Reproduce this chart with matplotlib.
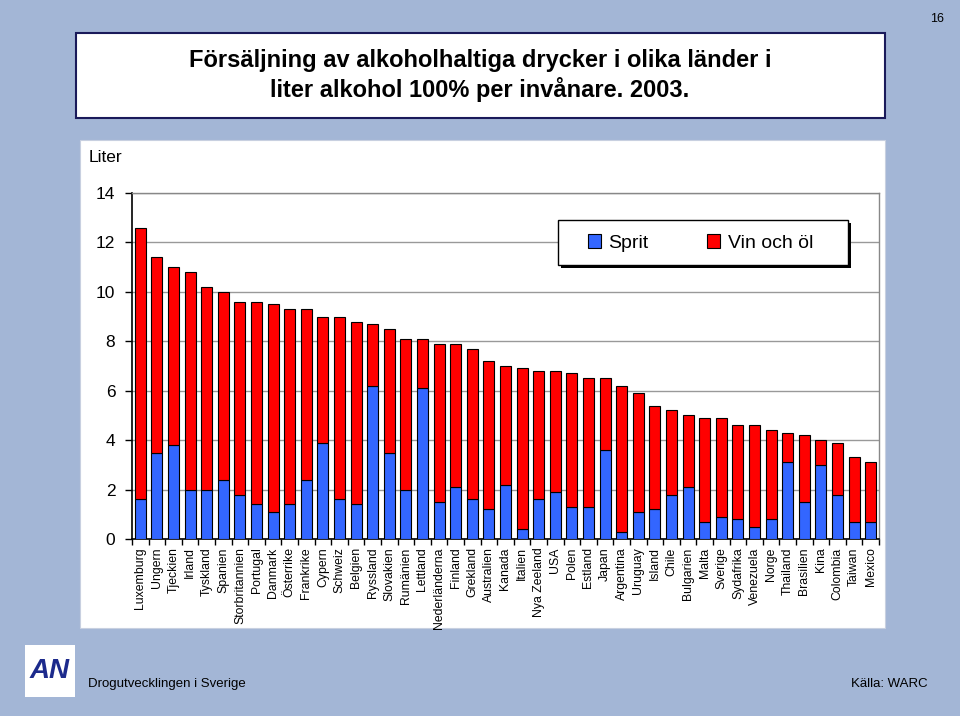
import matplotlib
matplotlib.use("Agg")
import matplotlib.pyplot as plt
from matplotlib.patches import Rectangle
import numpy as np

plt.rcParams['font.family'] = ['Liberation Sans', 'DejaVu Sans']

# Data: liter alkohol 100% per invånare, 2003
lander = ['Luxemburg', 'Ungern', 'Tjeckien', 'Irland', 'Tyskland', 'Spanien',
          'Storbritannien', 'Portugal', 'Danmark', 'Österrike', 'Frankrike',
          'Cypern', 'Schweiz', 'Belgien', 'Ryssland', 'Slovakien', 'Rumänien',
          'Lettland', 'Nederländerna', 'Finland', 'Grekland', 'Australien',
          'Kanada', 'Italien', 'Nya Zeeland', 'USA', 'Polen', 'Estland', 'Japan',
          'Argentina', 'Uruguay', 'Island', 'Chile', 'Bulgarien', 'Malta',
          'Sverige', 'Sydafrika', 'Venezuela', 'Norge', 'Thailand', 'Brasilien',
          'Kina', 'Colombia', 'Taiwan', 'Mexico']
totalt = [12.6, 11.4, 11.0, 10.8, 10.2, 10.0, 9.6, 9.6, 9.5, 9.3, 9.3, 9.0,
          9.0, 8.8, 8.7, 8.5, 8.1, 8.1, 7.9, 7.9, 7.7, 7.2, 7.0, 6.9, 6.8, 6.8,
          6.7, 6.5, 6.5, 6.2, 5.9, 5.4, 5.2, 5.0, 4.9, 4.9, 4.6, 4.6, 4.4, 4.3,
          4.2, 4.0, 3.9, 3.3, 3.1]
sprit = [1.6, 3.5, 3.8, 2.0, 2.0, 2.4, 1.8, 1.4, 1.1, 1.4, 2.4, 3.9, 1.6, 1.4,
         6.2, 3.5, 2.0, 6.1, 1.5, 2.1, 1.6, 1.2, 2.2, 0.4, 1.6, 1.9, 1.3, 1.3,
         3.6, 0.3, 1.1, 1.2, 1.8, 2.1, 0.7, 0.9, 0.8, 0.5, 0.8, 3.1, 1.5, 3.0,
         1.8, 0.7, 0.7]
vin_ol = [t - s for t, s in zip(totalt, sprit)]

W, H = 960, 716

def box(x0, y0, x1, y1):
    return [x0 / W, 1 - y1 / H, (x1 - x0) / W, (y1 - y0) / H]

def rect(x0, y0, x1, y1, **kw):
    fig.patches.append(Rectangle((x0 / W, 1 - y1 / H), (x1 - x0) / W, (y1 - y0) / H,
                                 transform=fig.transFigure, **kw))

fig = plt.figure(figsize=(9.6, 7.16), dpi=100)
fig.patch.set_facecolor('#a3b6d6')

# titelruta
rect(76, 33, 885, 118, facecolor='white', edgecolor='#1a1a5a', linewidth=1.5, zorder=-2)
fig.text(480 / W, 1 - 60 / H, 'Försäljning av alkoholhaltiga drycker i olika länder i',
         ha='center', va='center', fontsize=17, fontweight='bold')
fig.text(480 / W, 1 - 89 / H, 'liter alkohol 100% per invånare. 2003.',
         ha='center', va='center', fontsize=17, fontweight='bold')
fig.text(937 / W, 1 - 19 / H, '16', ha='center', va='center', fontsize=9)

# vit diagramyta
rect(80, 140, 885, 628, facecolor='white', edgecolor='#c8d0e0', linewidth=0.8, zorder=-2)
fig.text(89 / W, 1 - 158 / H, 'Liter', ha='left', va='center', fontsize=12.5)

ax = fig.add_axes(box(132, 193, 879, 539))
ax.patch.set_alpha(0)
x = np.arange(len(lander))
ax.bar(x, sprit, width=0.66, color='#3366ff', edgecolor='black', linewidth=0.8,
       label='Sprit', zorder=3)
ax.bar(x, vin_ol, width=0.66, bottom=sprit, color='#ff0000', edgecolor='black',
       linewidth=0.8, label='Vin och öl', zorder=3)

ax.set_xlim(-0.5, len(lander) - 0.5)
ax.set_ylim(0, 14)
ax.set_yticks(range(0, 15, 2))
ax.yaxis.grid(True, color='#999999', linewidth=1)
ax.set_axisbelow(True)
ax.set_xticks(x)
ax.set_xticklabels(lander, rotation=90, fontsize=8.8)
ax.set_xticks(np.arange(-0.5, len(lander), 1), minor=True)
ax.tick_params(axis='x', which='major', length=0, pad=6)
ax.tick_params(axis='x', which='minor', length=4, direction='out', width=1)
ax.tick_params(axis='y', labelsize=12.5, length=5, direction='out', width=1, pad=7)
for s in ['left', 'bottom']:
    ax.spines[s].set_color('black')
    ax.spines[s].set_linewidth(1.2)
for s in ['top', 'right']:
    ax.spines[s].set_color('#888888')
    ax.spines[s].set_linewidth(1)

# legendruta med skugga
rect(561, 223, 851, 268, facecolor='black', edgecolor='none', zorder=4)
rect(558, 220, 848, 265, facecolor='white', edgecolor='black', linewidth=1, zorder=5)
leg = fig.legend(loc='center left', bbox_to_anchor=(588 / W, 1 - 243 / H),
                 ncol=2, fontsize=14, frameon=False, handlelength=0.68,
                 handleheight=0.68, columnspacing=3.0, borderpad=0,
                 handletextpad=0.38, borderaxespad=0)
leg.set_zorder(6)

# sidfot
rect(25, 645, 75, 697, facecolor='white', edgecolor='none', zorder=-2)
fig.text(50 / W, 1 - 671 / H, 'AN', ha='center', va='center', fontsize=20,
         fontweight='bold', fontstyle='italic', color='#1c2a8c')
fig.text(88 / W, 1 - 684 / H, 'Drogutvecklingen i Sverige', ha='left',
         va='center', fontsize=9.5)
fig.text(928 / W, 1 - 684 / H, 'Källa: WARC', ha='right', va='center',
         fontsize=9.5)

fig.savefig('out.png', dpi=100, facecolor=fig.get_facecolor())
